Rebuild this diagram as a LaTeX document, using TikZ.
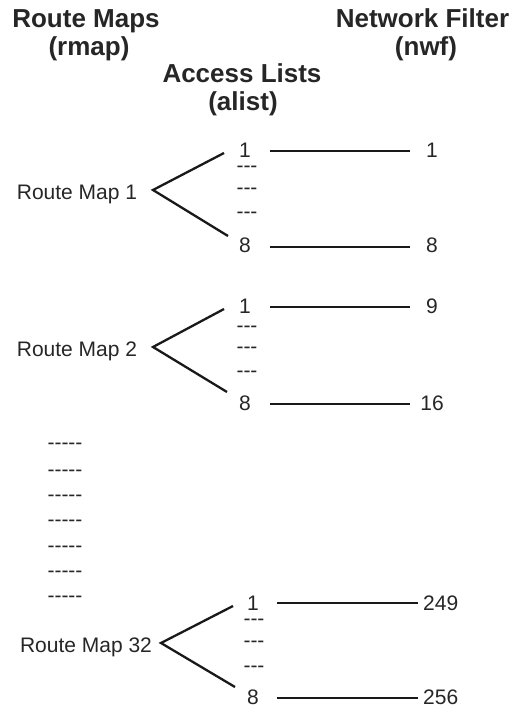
\documentclass[tikz,border=0pt]{standalone}
\usepackage{fontspec}
\setmainfont{Liberation Sans}
\begin{document}
\begin{tikzpicture}[x=1pt,y=-1pt,
  head/.style={font=\fontsize{26}{28}\selectfont\bfseries, inner sep=0pt, anchor=base, text=black!85},
  lbl/.style={font=\fontsize{21}{23}\selectfont, inner sep=0pt, text=black!85},
  rm/.style={lbl, anchor=base},
  num/.style={lbl, anchor=center},
  dsh/.style={lbl, anchor=base},
  link/.style={line width=2.3pt, black!90}]
\useasboundingbox (0,0) rectangle (515,707);
% headings
\node[head] (h1) at (86,27) {Route Maps};
\node[head] (h1b) at (89,55) {(rmap)};
\node[head] (h2) at (422.5,27) {Network Filter};
\node[head] (h2b) at (426,55) {(nwf)};
\node[head] (h3) at (242,82) {Access Lists};
\node[head] (h3b) at (243,110) {(alist)};
% group 1
\node[rm] (r1) at (77,199) {Route Map 1};
\node[num] (a1) at (245,150) {1};
\node[num] (a8) at (245,245) {8};
\node[num] (n1) at (432,150) {1};
\node[num] (n8) at (432,245) {8};
\node[dsh] (d11) at (247,172.5) {-{}-{}-};
\node[dsh] (d12) at (247,194.5) {-{}-{}-};
\node[dsh] (d13) at (247,218.5) {-{}-{}-};
\coordinate (v1) at (153,190);
\coordinate (u1) at (224,153);
\coordinate (l1) at (228,236);
\draw[link] (u1) -- (v1) -- (l1);
\coordinate (s11) at (270,151); \coordinate (e11) at (410,151);
\coordinate (s18) at (270,247); \coordinate (e18) at (410,247);
\draw[link] (s11) -- (e11);
\draw[link] (s18) -- (e18);
% group 2
\node[rm] (r2) at (77,356) {Route Map 2};
\node[num] (b1) at (245,306) {1};
\node[num] (b8) at (245,403) {8};
\node[num] (n9) at (432,306) {9};
\node[num] (n16) at (432,403) {16};
\node[dsh] (d21) at (247,332.5) {-{}-{}-};
\node[dsh] (d22) at (247,353.5) {-{}-{}-};
\node[dsh] (d23) at (247,377.5) {-{}-{}-};
\coordinate (v2) at (153,347);
\coordinate (u2) at (224,309);
\coordinate (l2) at (227,392);
\draw[link] (u2) -- (v2) -- (l2);
\coordinate (s21) at (270,307); \coordinate (e21) at (410,307);
\coordinate (s28) at (270,404); \coordinate (e28) at (410,404);
\draw[link] (s21) -- (e21);
\draw[link] (s28) -- (e28);
% ellipsis column
\foreach \y [count=\i] in {444,471,496,521,547,572,597}
  \node[dsh] (e\i) at (65,\y+5.5) {-{}-{}-{}-{}-};
% group 3
\node[rm] (r3) at (86,652) {Route Map 32};
\node[num] (c1) at (253,603) {1};
\node[num] (c8) at (253,697) {8};
\node[lbl, anchor=west] (n249) at (423,603) {249};
\node[lbl, anchor=west] (n256) at (423,697) {256};
\node[dsh] (d31) at (254,625.5) {-{}-{}-};
\node[dsh] (d32) at (254,647.5) {-{}-{}-};
\node[dsh] (d33) at (254,672.5) {-{}-{}-};
\coordinate (v3) at (161,643);
\coordinate (u3) at (233,606);
\coordinate (l3) at (235,687);
\draw[link] (u3) -- (v3) -- (l3);
\coordinate (s31) at (277,603); \coordinate (e31) at (418,603);
\coordinate (s38) at (277,698); \coordinate (e38) at (418,698);
\draw[link] (s31) -- (e31);
\draw[link] (s38) -- (e38);
\end{tikzpicture}
\end{document}
